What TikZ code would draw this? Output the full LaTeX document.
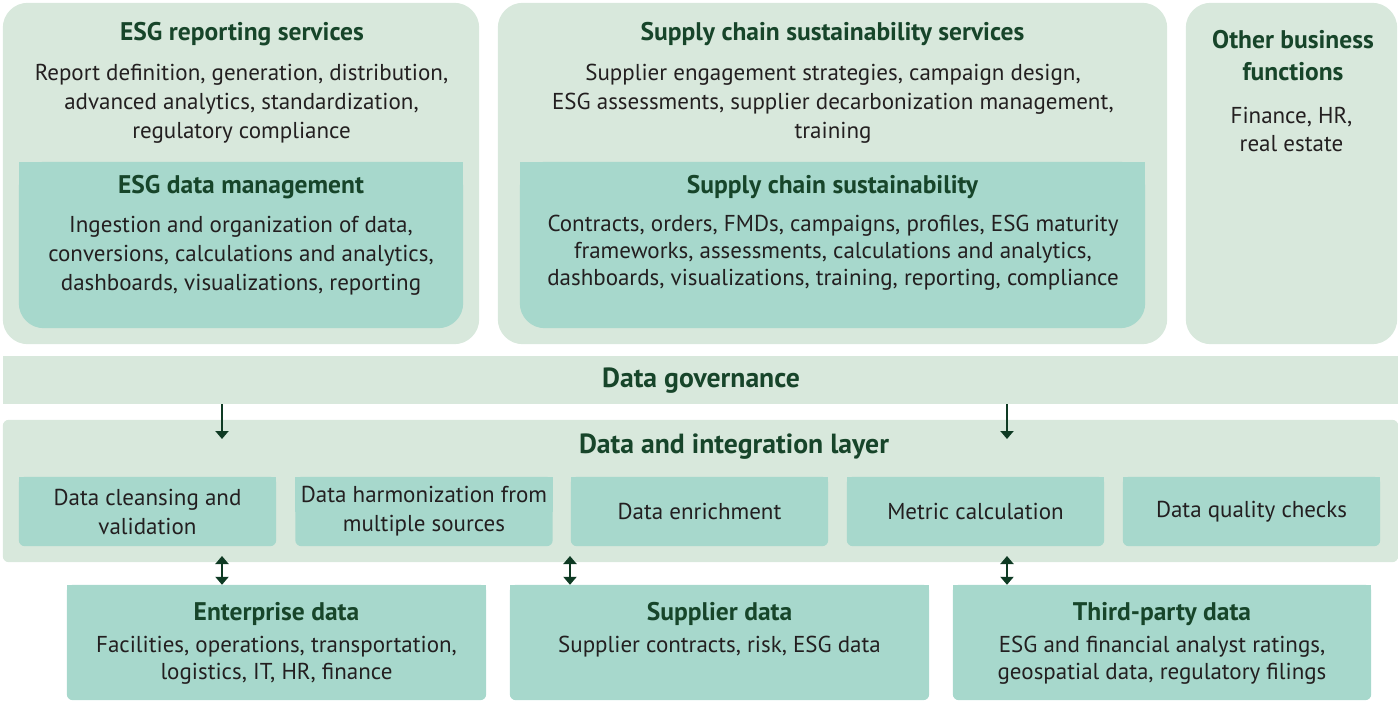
\documentclass[tikz,border=0pt]{standalone}
\usepackage{fontspec}
\setmainfont{PT Sans}
\usetikzlibrary{arrows.meta,backgrounds}

\definecolor{paleGreen}{HTML}{D8E8DC}
\definecolor{tealFill}{HTML}{A7D8CC}
\definecolor{headGreen}{HTML}{17452A}
\definecolor{bodyInk}{HTML}{231F20}
\definecolor{arrowGreen}{HTML}{0F3B24}

% fill a node's area with square top corners and rounded bottom corners
\newcommand\fillbottomround[3]{%
  \fill[#2,rounded corners=#3] (#1.north west) rectangle (#1.south east);
  \fill[#2] (#1.north west) rectangle (#1.east);}

\newcommand\headfont{\fontsize{25.5}{32}\selectfont\bfseries}
\newcommand\bigheadfont{\fontsize{27.7}{32}\selectfont\bfseries}
\newcommand\bodyfont{\fontsize{23}{29}\selectfont}

\begin{document}
\begin{tikzpicture}[x=1pt,y=-1pt,
  area/.style={inner sep=0pt, draw=none},
  headtext/.style={inner sep=0pt, align=center, text=headGreen, font=\headfont},
  bigheadtext/.style={inner sep=0pt, align=center, text=headGreen, font=\bigheadfont},
  bodytext/.style={inner sep=0pt, align=center, text=bodyInk, font=\bodyfont},
  stagebox/.style={area, minimum width=257pt, minimum height=69pt, align=center,
    text=bodyInk, font=\bodyfont},
  sourcebox/.style={area, minimum height=115pt, align=center,
    text=bodyInk, font=\fontsize{23}{27}\selectfont},
  flow/.style={draw=arrowGreen, line width=2.2pt, -{Triangle[width=13pt,length=8pt]}},
  twoway/.style={draw=arrowGreen, line width=2.2pt,
    {Triangle[width=13pt,length=8pt]}-{Triangle[width=13pt,length=8pt]}},
]
\useasboundingbox (0,0) rectangle (1398,701);

% ---- business layer panels
\node[area, minimum width=476pt, minimum height=341pt] (rep) at (241,173.5) {};
\node[area, minimum width=669pt, minimum height=341pt] (scs) at (832.5,173.5) {};
\node[area, minimum width=211pt, minimum height=341pt] (obf) at (1291.5,173.5) {};
\node[area, minimum width=444pt, minimum height=166pt] (dm) at (241,245) {};
\node[area, minimum width=625pt, minimum height=166pt] (scm) at (832.5,245) {};

% ---- governance and integration layer
\node[area, minimum width=1395pt, minimum height=48pt] (gov) at (700.5,380) {};
\node[area, minimum width=1395pt, minimum height=142pt] (layer) at (700.5,491) {};

\node[stagebox] (s1) at (147.5,511.5) {Data cleansing and\\validation};
\node[stagebox] (s2) at (424,511.5) {Data harmonization from\\multiple sources};
\node[stagebox] (s3) at (699.5,511.5) {Data enrichment};
\node[stagebox] (s4) at (975.5,511.5) {Metric calculation};
\node[stagebox] (s5) at (1251.5,511.5) {Data quality checks};

% ---- data sources
\node[sourcebox, minimum width=419pt] (ent) at (276.5,642.5) {};
\node[sourcebox, minimum width=419pt] (sup) at (719.5,642.5) {};
\node[sourcebox, minimum width=418pt] (tpd) at (1162,642.5) {};

% ---- fills behind the text
\begin{scope}[on background layer]
  \fill[paleGreen, rounded corners=25pt] (rep.north west) rectangle (rep.south east);
  \fill[paleGreen, rounded corners=25pt] (scs.north west) rectangle (scs.south east);
  \fill[paleGreen, rounded corners=25pt] (obf.north west) rectangle (obf.south east);
  \fillbottomround{dm}{tealFill}{25pt}
  \fillbottomround{scm}{tealFill}{25pt}
  \fill[paleGreen] (gov.north west) rectangle (gov.south east);
  \fill[paleGreen, rounded corners=6pt] (layer.north west) rectangle (layer.south east);
  \foreach \s in {s1,s2,s3,s4,s5} {\fillbottomround{\s}{tealFill}{6pt}}
  \foreach \s in {ent,sup,tpd} {\fillbottomround{\s}{tealFill}{6pt}}
\end{scope}

% ---- panel texts
\node[headtext] (repT) at (242,34) {ESG reporting services};
\node[bodytext] (repB) at (241.5,104)
  {Report definition, generation, distribution,\\advanced analytics, standardization,\\regulatory compliance};
\node[headtext] (dmT) at (241,187) {ESG data management};
\node[bodytext] (dmB) at (241,255.5)
  {Ingestion and organization of data,\\conversions, calculations and analytics,\\dashboards, visualizations, reporting};

\node[headtext] (scsT) at (832.5,34) {Supply chain sustainability services};
\node[bodytext] (scsB) at (833,104)
  {Supplier engagement strategies, campaign design,\\ESG assessments, supplier decarbonization management,\\training};
\node[headtext] (scmT) at (832.5,187) {Supply chain sustainability};
\node[bodytext, font=\fontsize{23}{27}\selectfont] (scmB) at (833,253)
  {Contracts, orders, FMDs, campaigns, profiles, ESG maturity\\frameworks, assessments, calculations and analytics,\\dashboards, visualizations, training, reporting, compliance};

\node[headtext] (obfT) at (1293,56) {Other business\\functions};
\node[bodytext, font=\fontsize{23}{28}\selectfont] (obfB) at (1291.5,129) {Finance, HR,\\real estate};

\node[bigheadtext] (govT) at (701,381) {Data governance};
\node[bigheadtext] (layerT) at (734,447) {Data and integration layer};

\node[headtext] (entT) at (276.5,614) {Enterprise data};
\node[bodytext, font=\fontsize{23}{27}\selectfont] (entB) at (276.5,660)
  {Facilities, operations, transportation,\\logistics, IT, HR, finance};
\node[headtext] (supT) at (719.5,614) {Supplier data};
\node[bodytext] (supB) at (719.5,646.5) {Supplier contracts, risk, ESG data};
\node[headtext] (tpdT) at (1162,614) {Third-party data};
\node[bodytext, font=\fontsize{23}{27}\selectfont] (tpdB) at (1162,660)
  {ESG and financial analyst ratings,\\geospatial data, regulatory filings};

% ---- connectors
\coordinate (g1) at (222,439);
\coordinate (g2) at (1007,439);
\draw[flow] (gov.south -| g1) -- (g1);
\draw[flow] (gov.south -| g2) -- (g2);

\coordinate (u1) at (222,556);
\coordinate (u2) at (570,556);
\coordinate (u3) at (1007,556);
\draw[twoway] (u1) -- (ent.north -| u1);
\draw[twoway] (u2) -- (sup.north -| u2);
\draw[twoway] (u3) -- (tpd.north -| u3);
\end{tikzpicture}
\end{document}
